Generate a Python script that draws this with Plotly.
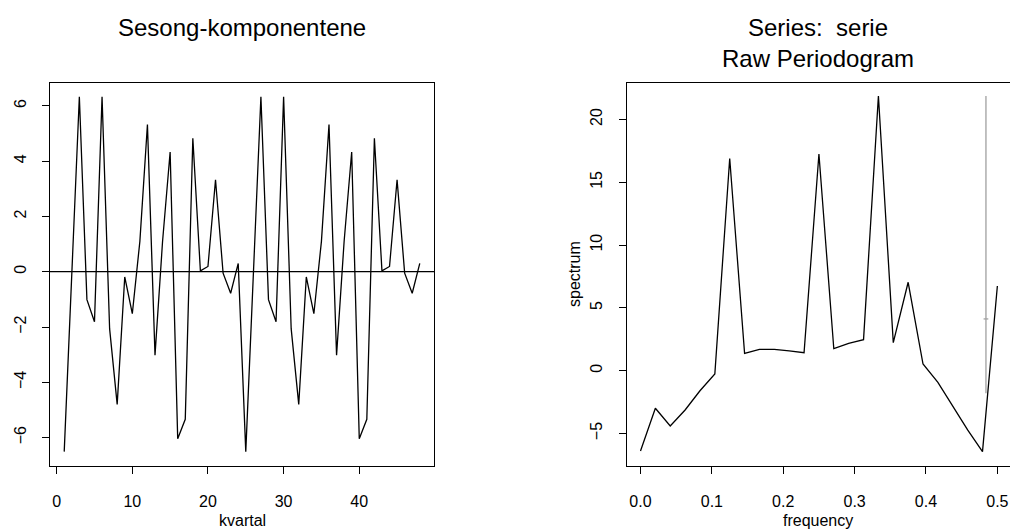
import plotly.graph_objects as go

# ---- Left panel: seasonal component ----
kvartal = list(range(1, 49))
sesong = [-6.51, -0.10, 6.33, -1.01, -1.81, 6.33, -2.06, -4.80, -0.19, -1.52, 1.10, 5.33,
          -3.02, 1.10, 4.33, -6.04, -5.34, 4.83, 0.03, 0.19, 3.33, -0.05, -0.78, 0.30,
          -6.51, -0.10, 6.33, -1.01, -1.81, 6.33, -2.06, -4.80, -0.19, -1.52, 1.10, 5.33,
          -3.02, 1.10, 4.33, -6.04, -5.34, 4.83, 0.03, 0.19, 3.33, -0.05, -0.78, 0.30]

# ---- Right panel: raw periodogram (dB) ----
frequency = [0.0, 0.02083, 0.04167, 0.0625, 0.08333, 0.10417, 0.125, 0.14583, 0.16667,
             0.1875, 0.20833, 0.22917, 0.25, 0.27083, 0.29167, 0.3125, 0.33333, 0.35417,
             0.375, 0.39583, 0.41667, 0.4375, 0.45833, 0.47917, 0.5]
spectrum = [-6.39, -2.99, -4.40, -3.13, -1.60, -0.26, 16.90, 1.38, 1.70, 1.70, 1.57, 1.43,
            17.25, 1.75, 2.18, 2.47, 21.87, 2.23, 7.04, 0.53, -0.93, -2.80, -4.72, -6.45, 6.74]

# confidence-interval bar (drawn by R's plot.spec)
ci_x = 0.484
ci_low = -1.80
ci_mid = 4.12
ci_high = 21.87
bandwidth = 0.0066

left_xticks = [0, 10, 20, 30, 40]
left_yticks = [-6, -4, -2, 0, 2, 4, 6]
right_xticks = [0.0, 0.1, 0.2, 0.3, 0.4, 0.5]
right_xlabels = ["0.0", "0.1", "0.2", "0.3", "0.4", "0.5"]
right_yticks = [-5, 0, 5, 10, 15, 20]

W, H = 1010, 529
FONT = "Liberation Sans, Arial, Helvetica, sans-serif"
TICKFONT = dict(family=FONT, size=16, color="black")

fig = go.Figure()

fig.add_trace(go.Scatter(x=kvartal, y=sesong, mode="lines",
                         line=dict(color="black", width=1.3),
                         xaxis="x", yaxis="y", showlegend=False))
fig.add_trace(go.Scatter(x=frequency, y=spectrum, mode="lines",
                         line=dict(color="black", width=1.3),
                         xaxis="x2", yaxis="y2", showlegend=False))
# CI bar: vertical line and crossbar
fig.add_trace(go.Scatter(x=[ci_x, ci_x], y=[ci_low, ci_high], mode="lines",
                         line=dict(color="#a0a0a0", width=1.3),
                         xaxis="x2", yaxis="y2", showlegend=False))
fig.add_trace(go.Scatter(x=[ci_x - bandwidth / 2, ci_x + bandwidth / 2], y=[ci_mid, ci_mid],
                         mode="lines", line=dict(color="#a0a0a0", width=1.3),
                         xaxis="x2", yaxis="y2", showlegend=False))

y_dom = [1 - 466 / H, 1 - 82.7 / H]
axis_common = dict(showline=True, mirror=True, linecolor="black", linewidth=1,
                   ticks="outside", ticklen=7, tickwidth=1, tickcolor="black",
                   showgrid=False, zeroline=False, tickfont=TICKFONT)

fig.update_layout(
    width=W, height=H,
    margin=dict(l=0, r=0, t=0, b=0),
    paper_bgcolor="white", plot_bgcolor="white",
    xaxis=dict(domain=[50 / W, 434 / W], range=[-0.88, 49.88], tickvals=left_xticks,
               anchor="y", ticklabelstandoff=14, **axis_common),
    yaxis=dict(domain=y_dom, range=[-7.03, 6.84], tickvals=left_yticks,
               anchor="x", tickangle=-90, ticklabelstandoff=10, **axis_common),
    xaxis2=dict(domain=[626.5 / W, 1.0], range=[-0.0196, 0.5177], tickvals=right_xticks,
                ticktext=right_xlabels, anchor="y2", ticklabelstandoff=14, **axis_common),
    yaxis2=dict(domain=y_dom, range=[-7.59, 22.93], tickvals=right_yticks,
                anchor="x2", tickangle=-90, ticklabelstandoff=10, **axis_common),
    shapes=[dict(type="line", xref="x domain", yref="y", x0=0, x1=1, y0=0, y1=0,
                 line=dict(color="black", width=1.3))],
)

anns = [
    dict(text="Sesong-komponentene", x=242 / W, y=1 - 27 / H, size=24),
    dict(text="Series:  serie", x=818 / W, y=1 - 27 / H, size=24),
    dict(text="Raw Periodogram", x=818 / W, y=1 - 59 / H, size=24),
    dict(text="kvartal", x=242 / W, y=1 - 520 / H, size=16),
    dict(text="frequency", x=818 / W, y=1 - 520 / H, size=16),
]
for a in anns:
    fig.add_annotation(text=a["text"], x=a["x"], y=a["y"], xref="paper", yref="paper",
                       xanchor="center", yanchor="middle", showarrow=False,
                       font=dict(family=FONT, size=a["size"], color="black"))
fig.add_annotation(text="spectrum", x=574 / W, y=1 - 274 / H, xref="paper", yref="paper",
                   xanchor="center", yanchor="middle", showarrow=False, textangle=-90,
                   font=dict(family=FONT, size=16, color="black"))

fig.write_html("out.html")
